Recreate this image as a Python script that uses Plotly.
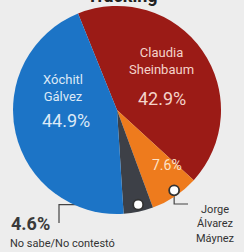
import numpy as np
import plotly.graph_objects as go

# ---- data ----
labels = ["Claudia Sheinbaum", "Jorge Álvarez Máynez", "No sabe/No contestó", "Xóchitl Gálvez"]
values = [42.9, 7.6, 4.6, 44.9]
colors = ["#9b1b16", "#ee7b1d", "#3d4047", "#1c74c6"]
title_text = "Tracking"

W, H = 244, 252
cx, cy, R = 117, 110, 104
rotation = -22
bg = "#ededed"

fig = go.Figure()
fig.add_trace(go.Pie(
    values=values, labels=labels, sort=False, direction="clockwise",
    rotation=rotation, marker=dict(colors=colors),
    textinfo="none", hoverinfo="skip", showlegend=False,
    domain=dict(x=[(cx - R) / W, (cx + R) / W], y=[1 - (cy + R) / H, 1 - (cy - R) / H]),
))
# invisible helper axes in pixel units for annotations/shapes
fig.add_trace(go.Scatter(x=[0, W], y=[0, H], mode="markers", marker=dict(opacity=0),
                         hoverinfo="skip", showlegend=False))

vals = np.array(values)
cum = np.concatenate([[0], np.cumsum(vals)])
mid = rotation + 360 * (cum[:-1] + vals / 2) / vals.sum()

def pt(i, f=0.93, sx=1.06):
    a = np.deg2rad(mid[i])
    return cx + R * f * sx * np.sin(a), cy - R * f * np.cos(a)

shapes = []
gx, gy = pt(2)
shapes.append(dict(type="path", path=f"M {gx},{gy} L 59,{gy} L 59,223",
                   line=dict(color="#444", width=1.2), layer="below", xref="x", yref="y"))
jx, jy = pt(1)
shapes.append(dict(type="path", path=f"M {jx},{jy} L {jx},204 L 188,204",
                   line=dict(color="#444", width=1.2), layer="below", xref="x", yref="y"))
for (mx, my) in [(gx, gy), (jx, jy)]:
    shapes.append(dict(type="circle", x0=mx - 5, x1=mx + 5, y0=my - 5, y1=my + 5,
                       fillcolor="white", line=dict(color="#333", width=1.8),
                       layer="above", xref="x", yref="y"))

font = "Roboto, Arial, sans-serif"
ann = []
def A(x, y, text, size, color, bold=False, xanchor="center"):
    t = f"<b>{text}</b>" if bold else text
    ann.append(dict(x=x, y=y, xref="x", yref="y", text=t, showarrow=False,
                    xanchor=xanchor, yanchor="middle",
                    font=dict(family=font, size=size, color=color)))

A(161, 61, "Claudia<br>Sheinbaum", 13, "#f4d3ca")
A(162, 98, f"{values[0]}%", 18, "#f4d3ca")
A(63, 88, "Xóchitl<br>Gálvez", 13, "#dde9f6")
A(66, 120, f"{values[3]}%", 18, "#dde9f6")
A(167, 165, f"{values[1]}%", 14, "#fde2c6")
A(30, 223, f"{values[2]}%", 18, "#3a3a3a", bold=True)
A(62, 243, labels[2], 11, "#333")
A(215, 224, "Jorge<br>Álvarez<br>Máynez", 11, "#333")
ann.append(dict(x=0.5, y=1, xref="paper", yref="paper", text=f"<b>{title_text}</b>", showarrow=False,
                xanchor="center", yanchor="bottom", yshift=-8,
                font=dict(family=font, size=18, color="#222")))

fig.update_layout(
    width=W, height=H, margin=dict(l=0, r=0, t=0, b=0),
    paper_bgcolor=bg, plot_bgcolor=bg,
    xaxis=dict(range=[0, W], visible=False, domain=[0, 1], fixedrange=True),
    yaxis=dict(range=[H, 0], visible=False, domain=[0, 1], fixedrange=True),
    shapes=shapes, annotations=ann, showlegend=False,
)
fig.write_html("out.html", config={"displayModeBar": False},
               post_script="document.body.style.margin='0';")
